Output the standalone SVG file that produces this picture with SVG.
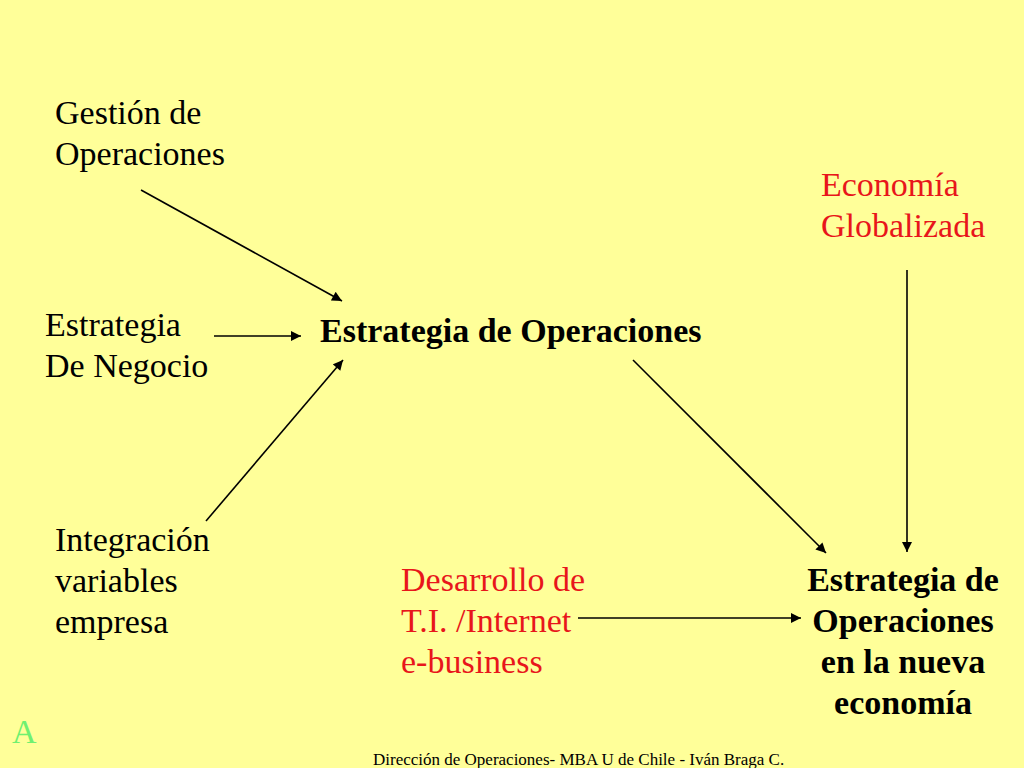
<svg xmlns="http://www.w3.org/2000/svg" width="1024" height="768" viewBox="0 0 1024 768">
<style>
text{font-family:"Liberation Serif","Times New Roman",serif;font-size:34px;fill:#000}
.b{font-weight:bold}
.r{fill:#E8161B}
.c{text-anchor:middle}
.ln{stroke:#000;stroke-width:1.6;fill:none;marker-end:url(#ah)}
</style>
<defs>
<marker id="ah" viewBox="0 0 10 10" refX="10" refY="5" markerWidth="11" markerHeight="10" markerUnits="userSpaceOnUse" orient="auto">
<path d="M0,0 L10,5 L0,10 z" fill="#000"/>
</marker>
</defs>
<rect width="1024" height="768" fill="#FFFF99"/>
<g id="connectors">
<line class="ln" x1="141" y1="190" x2="342" y2="301"/>
<line class="ln" x1="214" y1="336" x2="301" y2="336"/>
<line class="ln" x1="206" y1="521" x2="343" y2="360"/>
<line class="ln" x1="633" y1="360" x2="826" y2="553"/>
<line class="ln" x1="907" y1="270" x2="907" y2="552"/>
<line class="ln" x1="578" y1="618" x2="801" y2="618"/>
</g>
<g id="gestion"><text x="55" y="124">Gestión de</text><text x="55" y="165">Operaciones</text></g>
<g id="negocio"><text x="45" y="336">Estrategia</text><text x="45" y="377">De Negocio</text></g>
<g id="integracion"><text x="55" y="551">Integración</text><text x="55" y="592">variables</text><text x="55" y="633">empresa</text></g>
<g id="estrategia"><text class="b" x="320" y="342">Estrategia de Operaciones</text></g>
<g id="economia"><text class="r" x="821" y="196">Economía</text><text class="r" x="821" y="237">Globalizada</text></g>
<g id="desarrollo"><text class="r" x="401" y="591">Desarrollo de</text><text class="r" x="401" y="632">T.I. /Internet</text><text class="r" x="401" y="673">e-business</text></g>
<g id="nueva"><text class="b c" x="903" y="591">Estrategia de</text><text class="b c" x="903" y="632">Operaciones</text><text class="b c" x="903" y="673">en la nueva</text><text class="b c" x="903" y="714">economía</text></g>
<text x="12" y="743" style="fill:#70F070">A</text>
<text x="373" y="765" style="font-size:17px">Dirección de Operaciones- MBA U de Chile - Iván Braga C.</text>
</svg>
